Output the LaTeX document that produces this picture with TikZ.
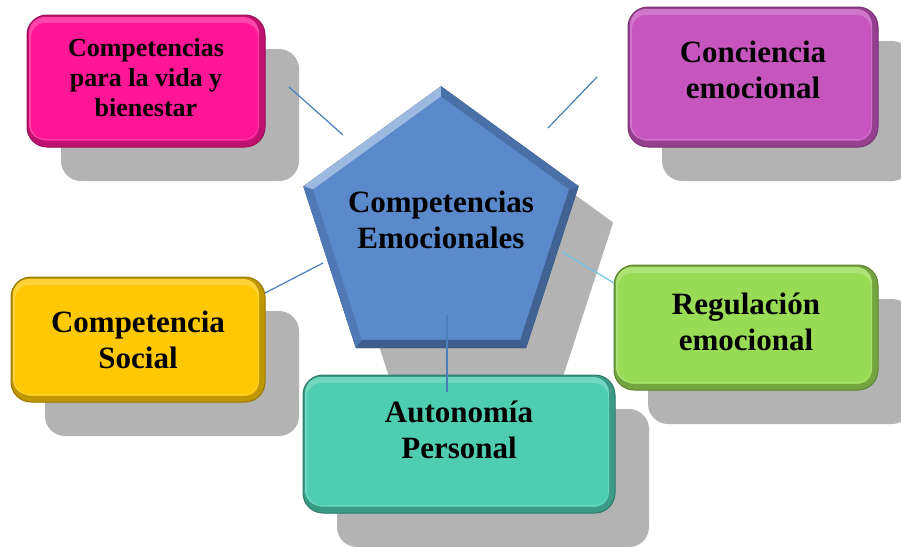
\documentclass[tikz,border=0pt]{standalone}
\usepackage{fontspec}
\setmainfont{Liberation Serif}
\usetikzlibrary{shapes,shadows,calc}

\definecolor{vidapink}{HTML}{FF1694}
\definecolor{concmag}{HTML}{C655BE}
\definecolor{socialyel}{HTML}{FFC805}
\definecolor{autoteal}{HTML}{4ECDB0}
\definecolor{reggreen}{HTML}{9ADB55}
\definecolor{pentblue}{HTML}{5A8ACC}
\definecolor{shadowgray}{HTML}{B3B3B3}
\definecolor{linkblue}{HTML}{4A7EBB}
\definecolor{linklight}{HTML}{6CC3E6}

\begin{document}
\begin{tikzpicture}[
    x=1pt, y=-1pt,
    card/.style={rectangle, rounded corners=20pt, fill=#1, draw=#1!60!black, line width=1pt, align=center, inner sep=0pt,
        drop shadow={shadow xshift=34pt, shadow yshift=-34pt, fill=shadowgray, opacity=1},
        path picture={
            \draw[line width=12pt, #1!75!black, rounded corners=20pt] (path picture bounding box.south west) rectangle (path picture bounding box.north east);
            \fill[#1!80!white, rounded corners=16pt] ([xshift=2pt,yshift=7pt]path picture bounding box.south west) rectangle ([xshift=-6pt,yshift=-2pt]path picture bounding box.north east);
            \fill[#1, rounded corners=14pt] ([xshift=4pt,yshift=8pt]path picture bounding box.south west) rectangle ([xshift=-7pt,yshift=-8pt]path picture bounding box.north east);
        }},
    pent/.style={regular polygon, regular polygon sides=5, inner sep=-10.5pt, fill=pentblue, draw=pentblue!60!black, line width=1pt, align=center,
        drop shadow={shadow xshift=35pt, shadow yshift=-36pt, fill=shadowgray, opacity=1}},
    link/.style={draw=linkblue, line width=1.2pt}
]

  \tikzset{
    font={\fontsize{31pt}{36pt}\selectfont\bfseries}
  }
\useasboundingbox (0,0) rectangle (901,546);

% Nodes
\node[pent, text depth=22pt] (core) at (441,231) {Competencias\\Emocionales};

% Bevel of the pentagon
\foreach \i/\j/\tone in {1/2/pentblue!60!white, 2/3/pentblue!88!black, 3/4/pentblue!68!black, 4/5/pentblue!72!black, 5/1/pentblue!82!black} {
  \fill[\tone] (core.corner \i) -- (core.corner \j) -- ($(core.center)!0.93!(core.corner \j)$) -- ($(core.center)!0.93!(core.corner \i)$) -- cycle;
}

\node[card=vidapink, minimum width=238pt, minimum height=132pt, text depth=8pt, font={\fontsize{26pt}{30pt}\selectfont\bfseries}] (vida) at (146,81) {Competencias\\para la vida y\\bienestar};
\node[card=concmag, minimum width=250pt, minimum height=140pt, text depth=14pt] (conciencia) at (753,77) {Conciencia\\emocional};
\node[card=socialyel, minimum width=254pt, minimum height=125pt] (social) at (138,339.5) {Competencia\\Social};
\node[card=reggreen, minimum width=264pt, minimum height=125pt, text depth=12pt] (regulacion) at (746,327.5) {Regulación\\emocional};
\node[card=autoteal, minimum width=312pt, minimum height=138pt, text depth=28pt] (autonomia) at (459,444) {Autonomía\\Personal};

% Line ends
\coordinate (vidaA) at (289,87);
\coordinate (vidaB) at (343,135);
\coordinate (concA) at (597,77);
\coordinate (concB) at (548,128);
\coordinate (socA) at (265,293);
\coordinate (socB) at (323,263);
\coordinate (regA) at (562,252);
\coordinate (regB) at (614,283);
\coordinate (autoA) at (447,315);
\coordinate (autoB) at (447,392);

% Lines
\draw[link] (vidaA) -- (vidaB);
\draw[link] (concA) -- (concB);
\draw[link] (socA) -- (socB);
\draw[link, draw=linklight] (regA) -- (regB);
\draw[link] (autoA) -- (autoB);

\end{tikzpicture}
\end{document}
